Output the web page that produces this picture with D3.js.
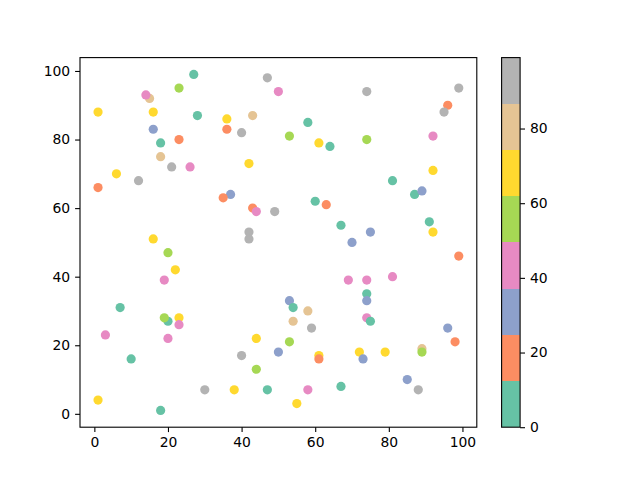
<!DOCTYPE html>
<html>
<head>
<meta charset="utf-8">
<script src="https://cdn.jsdelivr.net/npm/d3@7"></script>
<style>
  body { margin: 0; background: #fff; }
  svg text { font-family: "DejaVu Sans", sans-serif; }
</style>
</head>
<body>
<div id="chart"></div>
<script>
// scatter data (x, y, colour value)
const xs = [27, 47, 50, 23, 15, 14, 1, 16, 28, 36, 43, 16, 37, 35, 40, 18, 23, 18, 21, 26,
            42, 6, 12, 1, 36, 43, 44, 49, 42, 42, 16, 74, 99, 96, 95, 58, 53, 61, 64, 74,
            92, 92, 81, 87, 89, 60, 63, 67, 75, 70, 91, 92, 20, 22, 19, 7, 20, 19, 23, 23,
            3, 20, 10, 44, 40, 44, 50, 30, 38, 47, 1, 18, 99, 69, 74, 81, 74, 74, 53, 54,
            58, 54, 59, 74, 75, 96, 98, 53, 61, 61, 72, 73, 79, 89, 89, 85, 88, 67, 58, 55];
const ys = [99, 98, 94, 95, 92, 93, 88, 88, 87, 86, 87, 83, 64, 63, 82, 79, 80, 75, 72, 72,
            73, 70, 68, 66, 83, 60, 59, 59, 53, 51, 51, 94, 95, 90, 88, 85, 81, 79, 78, 80,
            81, 71, 68, 64, 65, 62, 61, 55, 53, 50, 56, 53, 47, 42, 39, 31, 27, 28, 28, 26,
            23, 22, 16, 22, 17, 13, 18, 7, 7, 7, 4, 1, 46, 39, 39, 40, 35, 33, 33, 31,
            30, 27, 25, 28, 27, 25, 21, 21, 17, 16, 18, 16, 18, 19, 18, 10, 7, 8, 7, 3];
const cs = [0, 93, 43, 55, 80, 43, 68, 68, 6, 68, 80, 31, 31, 18, 93, 6, 18, 80, 93, 43,
            68, 68, 93, 18, 18, 18, 43, 93, 93, 93, 68, 93, 99, 18, 93, 6, 55, 68, 6, 55,
            43, 68, 6, 6, 31, 6, 18, 6, 31, 31, 6, 68, 55, 68, 43, 6, 6, 55, 68, 43,
            43, 43, 6, 68, 93, 55, 31, 93, 68, 6, 68, 6, 18, 43, 43, 43, 6, 31, 31, 6,
            80, 80, 93, 43, 6, 31, 18, 55, 68, 18, 68, 31, 68, 80, 55, 31, 93, 6, 43, 68];
const colorDomain = [0, 99];
const xTicks = [0, 20, 40, 60, 80, 100];
const yTicks = [0, 20, 40, 60, 80, 100];
const cbTicks = [0, 20, 40, 60, 80];

const W = 640, H = 480;
const ax = { left: 80, top: 57.6, right: 476.8, bottom: 427.2 };
const cb = { left: 501.6, right: 520.1 };

const svg = d3.select("#chart").append("svg")
    .attr("width", W)
    .attr("height", H);

const x = d3.scaleLinear().domain([-3.9, 103.9]).range([ax.left, ax.right]);
const y = d3.scaleLinear().domain([-3.9, 103.9]).range([ax.bottom, ax.top]);
const color = d3.scaleQuantize().domain(colorDomain).range(d3.schemeSet2);

const points = xs.map((d, i) => ({ x: d, y: ys[i], c: cs[i] }));

svg.append("g")
    .selectAll("circle")
    .data(points)
    .join("circle")
    .attr("cx", d => x(d.x))
    .attr("cy", d => y(d.y))
    .attr("r", 4.6)
    .attr("fill", d => color(d.c));

// frame
svg.append("rect")
    .attr("x", ax.left).attr("y", ax.top)
    .attr("width", ax.right - ax.left).attr("height", ax.bottom - ax.top)
    .attr("fill", "none").attr("stroke", "#000").attr("stroke-width", 1.1);

function styleAxis(g) {
    g.select(".domain").remove();
    g.selectAll(".tick line").attr("stroke", "#000").attr("stroke-width", 1.1);
    g.selectAll(".tick text").attr("fill", "#000").style("font-size", "13.9px")
        .style("font-family", "DejaVu Sans, sans-serif");
}

svg.append("g")
    .attr("transform", `translate(0,${ax.bottom})`)
    .call(d3.axisBottom(x).tickValues(xTicks).tickSize(4.9).tickPadding(4.9))
    .call(styleAxis);

svg.append("g")
    .attr("transform", `translate(${ax.left},0)`)
    .call(d3.axisLeft(y).tickValues(yTicks).tickSize(4.9).tickPadding(4.9))
    .call(styleAxis);

// colorbar
const cy = d3.scaleLinear().domain(colorDomain).range([ax.bottom, ax.top]);
const bins = d3.schemeSet2.map(c => color.invertExtent(c));

svg.append("g")
    .selectAll("rect")
    .data(bins)
    .join("rect")
    .attr("x", cb.left)
    .attr("y", d => cy(d[1]))
    .attr("width", cb.right - cb.left)
    .attr("height", d => cy(d[0]) - cy(d[1]))
    .attr("fill", (d, i) => d3.schemeSet2[i])
    .attr("shape-rendering", "crispEdges");

svg.append("rect")
    .attr("x", cb.left).attr("y", ax.top)
    .attr("width", cb.right - cb.left).attr("height", ax.bottom - ax.top)
    .attr("fill", "none").attr("stroke", "#000").attr("stroke-width", 1.1);

svg.append("g")
    .attr("transform", `translate(${cb.right},0)`)
    .call(d3.axisRight(cy).tickValues(cbTicks).tickSize(4.9).tickPadding(4.9))
    .call(styleAxis);
</script>
</body>
</html>
